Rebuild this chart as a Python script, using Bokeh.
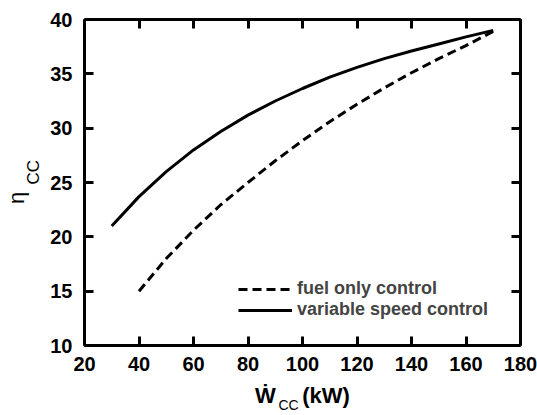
from bokeh.plotting import figure
from bokeh.models import (LinearAxis, FixedTicker, Legend, LegendItem, Range1d)
from bokeh.embed import file_html
from bokeh.resources import INLINE

# ---- data ----
w_var = [30, 40, 50, 60, 70, 80, 90, 100, 110, 120, 130, 140, 150, 160, 170]
eta_var = [21.0, 23.7, 26.0, 28.0, 29.7, 31.2, 32.5, 33.65, 34.7, 35.6, 36.4, 37.1, 37.75, 38.4, 39.0]
w_fuel = [40, 50, 60, 70, 80, 90, 100, 110, 120, 130, 140, 150, 160, 170]
eta_fuel = [15.0, 18.0, 20.6, 22.95, 25.0, 27.0, 28.85, 30.6, 32.2, 33.7, 35.1, 36.4, 37.6, 38.9]
x_ticks = [20, 40, 60, 80, 100, 120, 140, 160, 180]
y_ticks = [10, 15, 20, 25, 30, 35, 40]
labels = ["fuel only control", "variable speed control"]

FONT = "Liberation Sans"

p = figure(width=537, height=415, output_backend="svg", toolbar_location=None,
           x_range=Range1d(20, 180), y_range=Range1d(10, 40),
           min_border_left=84, min_border_right=17, min_border_top=19, min_border_bottom=70,
           x_axis_location=None, y_axis_location=None)
p.outline_line_color = None
p.xgrid.visible = False
p.ygrid.visible = False
p.background_fill_color = "white"
p.border_fill_color = "white"

def style_axis(ax, ticks, show_labels):
    ax.ticker = FixedTicker(ticks=ticks)
    ax.axis_line_width = 3
    ax.axis_line_color = "black"
    ax.major_tick_line_width = 3
    ax.major_tick_line_color = "black"
    ax.major_tick_in = 9
    ax.major_tick_out = 0
    ax.minor_tick_line_color = None
    if show_labels:
        ax.major_label_text_font = FONT
        ax.major_label_text_font_style = "bold"
        ax.major_label_text_font_size = "20px"
        ax.major_label_text_color = "black"
    else:
        ax.major_label_overrides = {t: "" for t in ticks}
        ax.major_label_standoff = 0

def label_only_axis(text, size, bold, standoff):
    ax = LinearAxis(ticker=FixedTicker(ticks=[]))
    ax.axis_line_color = None
    ax.major_tick_in = 0
    ax.major_tick_out = 0
    ax.minor_tick_in = 0
    ax.minor_tick_out = 0
    ax.major_label_standoff = 0
    ax.axis_label = text
    ax.axis_label_text_font = FONT
    ax.axis_label_text_font_size = size
    ax.axis_label_text_font_style = "bold" if bold else "normal"
    ax.axis_label_text_color = "black"
    ax.axis_label_standoff = standoff
    return ax

# bottom axis with the main part of the x label: W-dot ... (kW)
bx = LinearAxis(); style_axis(bx, x_ticks, True)
bx.major_label_standoff = 11
bx.axis_label = "Ẇ\u2003\u2009(kW)"
bx.axis_label_text_font = FONT
bx.axis_label_text_font_size = "22px"
bx.axis_label_text_font_style = "bold"
bx.axis_label_text_color = "black"
bx.axis_label_standoff = 9
p.add_layout(bx, "below")
# subscript CC of W-dot
p.add_layout(label_only_axis("CC\u2003\u2003", "14px", False, -14), "below")

# left axis with subscript CC of eta as its label
ly = LinearAxis(); style_axis(ly, y_ticks, True)
ly.major_label_standoff = 12
ly.axis_label = "\u2003\u2009CC"
ly.axis_label_text_font = FONT
ly.axis_label_text_font_size = "17px"
ly.axis_label_text_font_style = "normal"
ly.axis_label_text_color = "black"
ly.axis_label_standoff = 4
p.add_layout(ly, "left")
# eta
p.add_layout(label_only_axis("η\u2003\u2009\u2009", "22px", False, -7), "left")

tx = LinearAxis(); style_axis(tx, x_ticks, False); p.add_layout(tx, "above")
ry = LinearAxis(); style_axis(ry, y_ticks, False); p.add_layout(ry, "right")

r_fuel = p.line(w_fuel, eta_fuel, line_color="black", line_width=3, line_dash="9 5",
                line_join="round")
r_var = p.line(w_var, eta_var, line_color="black", line_width=3, line_join="round")

legend = Legend(items=[LegendItem(label=labels[0], renderers=[r_fuel]),
                       LegendItem(label=labels[1], renderers=[r_var])],
                location=(154, 25), padding=0, margin=0, spacing=0,
                glyph_width=54, glyph_height=20, label_height=20, label_standoff=5,
                label_text_font=FONT, label_text_font_style="bold",
                label_text_font_size="18px", border_line_alpha=0,
                background_fill_alpha=0)
p.add_layout(legend, "center")

open("out.html", "w").write(file_html(p, INLINE))
